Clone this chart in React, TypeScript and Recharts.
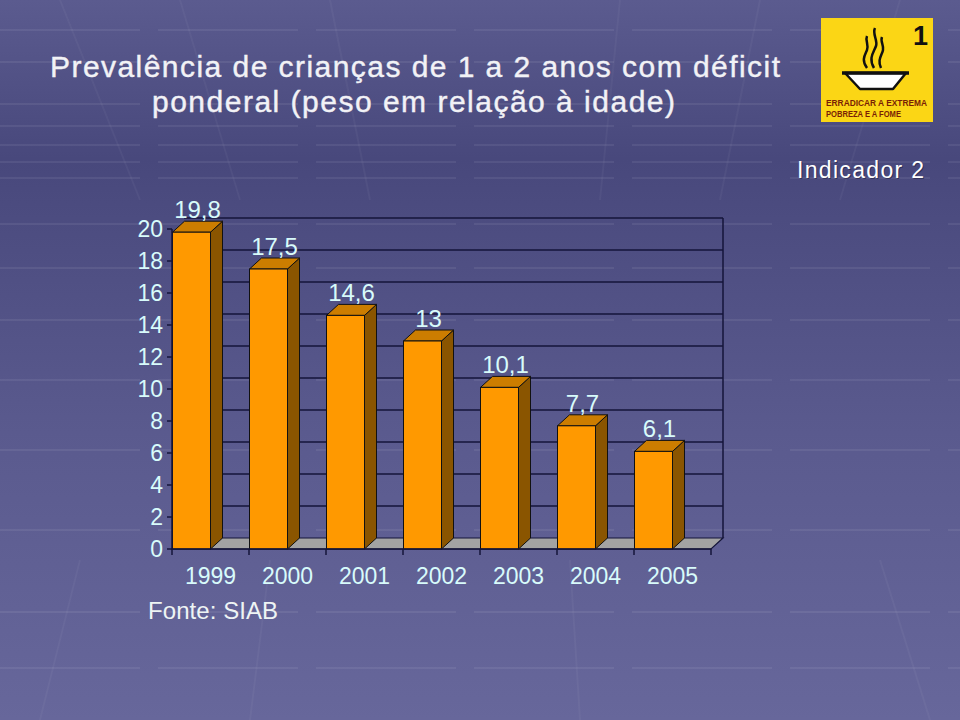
import React from 'react';
import { BarChart, Bar, XAxis, YAxis, CartesianGrid, LabelList } from 'recharts';

const years = ['1999', '2000', '2001', '2002', '2003', '2004', '2005'];
const values = [19.8, 17.5, 14.6, 13, 10.1, 7.7, 6.1];
const valueLabels = ['19,8', '17,5', '14,6', '13', '10,1', '7,7', '6,1'];
const yTicks = [0, 2, 4, 6, 8, 10, 12, 14, 16, 18, 20];

const data = years.map((year, i) => ({ year, value: values[i], label: valueLabels[i] }));

const FONT = '"Liberation Sans", Arial, Helvetica, sans-serif';
const W = 960;
const H = 720;
const MARGIN = { top: 229, right: 249, bottom: 141, left: 112 };
const Y_AXIS_W = 60;
const X_AXIS_H = 30;
const PLOT_TOP = MARGIN.top;
const PLOT_BOTTOM = H - MARGIN.bottom - X_AXIS_H;
const PLOT_LEFT = MARGIN.left + Y_AXIS_W;
const PLOT_RIGHT = W - MARGIN.right;
const BAND = (PLOT_RIGHT - PLOT_LEFT) / years.length;
const BAR_W = 38;
const SHIFT = (BAND - BAR_W) / 2;
const DX = 12;
const DY = -11;
const GRID = '#15153a';
const TXT = '#d8fbfb';

const Bar3D = (props: any) => {
  const { x, y, width, height } = props;
  if (height == null || height <= 0) return null;
  const fx = x - SHIFT;
  const w = width;
  return (
    <g>
      <polygon
        points={`${fx + w},${y} ${fx + w + DX},${y + DY} ${fx + w + DX},${y + height + DY} ${fx + w},${y + height}`}
        fill="#8a5500"
        stroke="#111"
        strokeWidth={1}
        strokeLinejoin="round"
      />
      <polygon
        points={`${fx},${y} ${fx + DX},${y + DY} ${fx + w + DX},${y + DY} ${fx + w},${y}`}
        fill="#cc7d00"
        stroke="#111"
        strokeWidth={1}
        strokeLinejoin="round"
      />
      <rect x={fx} y={y} width={w} height={height} fill="#ff9900" stroke="#111" strokeWidth={1} />
    </g>
  );
};

const renderValueLabel = (props: any) => {
  const { x, y, width, value } = props;
  const cx = x - SHIFT + width / 2 + DX / 2;
  return (
    <text x={cx} y={y - 14} textAnchor="middle" fill={TXT} fontSize={24} fontFamily={FONT}>
      {value}
    </text>
  );
};

const renderGridLine = (props: any) => {
  const { x1, x2, y1, key } = props;
  if (Math.abs(y1 - PLOT_BOTTOM) < 1) {
    return (
      <g key={key}>
        <polygon
          points={`${x1},${y1} ${x1 + DX},${y1 + DY} ${x2 + DX},${y1 + DY} ${x2},${y1}`}
          fill="#a3a3a3"
          stroke={GRID}
          strokeWidth={1.2}
        />
        <line x1={x2 + DX} y1={PLOT_TOP + DY} x2={x2 + DX} y2={y1 + DY} stroke={GRID} strokeWidth={1.5} />
      </g>
    );
  }
  return <line key={key} x1={x1 + DX} y1={y1 + DY} x2={x2 + DX} y2={y1 + DY} stroke={GRID} strokeWidth={1.5} />;
};

const XTick = (props: any) => {
  const { x, payload, index } = props;
  const last = index === years.length - 1;
  return (
    <g>
      <line x1={x - BAND / 2} y1={PLOT_BOTTOM} x2={x - BAND / 2} y2={PLOT_BOTTOM + 6} stroke={GRID} strokeWidth={1.5} />
      {last && (
        <line x1={x + BAND / 2} y1={PLOT_BOTTOM} x2={x + BAND / 2} y2={PLOT_BOTTOM + 6} stroke={GRID} strokeWidth={1.5} />
      )}
      <text x={x} y={PLOT_BOTTOM + 35} textAnchor="middle" fill={TXT} fontSize={23} fontFamily={FONT}>
        {payload.value}
      </text>
    </g>
  );
};

const bgHLines = [30, 62, 104, 126, 145, 162, 178, 224, 268, 320, 380, 450, 530, 612, 668];
const bgSlants = [
  [60, 0, 140, 200],
  [180, 0, 240, 200],
  [330, 0, 370, 200],
  [620, 0, 600, 200],
  [760, 0, 720, 200],
  [900, 0, 840, 200],
  [40, 720, 80, 560],
  [250, 720, 270, 560],
  [580, 720, 570, 560],
  [930, 720, 880, 560],
];

const Background = () => (
  <svg width={W} height={H} style={{ position: 'absolute', left: 0, top: 0 }}>
    <defs>
      <linearGradient id="bg" x1="0" y1="0" x2="0" y2="1">
        <stop offset="0%" stopColor="#5b5b8f" />
        <stop offset="22%" stopColor="#48487c" />
        <stop offset="60%" stopColor="#5a5a8e" />
        <stop offset="100%" stopColor="#67679b" />
      </linearGradient>
    </defs>
    <rect x={0} y={0} width={W} height={H} fill="url(#bg)" />
    {bgHLines.map((y, i) => (
      <line key={'h' + i} x1={0} y1={y} x2={W} y2={y} stroke="#ffffff" strokeOpacity={0.07} strokeWidth={2} strokeDasharray="140 18" />
    ))}
    {bgSlants.map((s, i) => (
      <line key={'s' + i} x1={s[0]} y1={s[1]} x2={s[2]} y2={s[3]} stroke="#ffffff" strokeOpacity={0.04} strokeWidth={2} />
    ))}
    {/* Title */}
    <text x={50} y={77} fontSize={30} fill="#f2f2f6" stroke="#f2f2f6" strokeWidth={0.4} fontFamily={FONT} textLength={730} lengthAdjust="spacing">
      Prevalência de crianças de 1 a 2 anos com déficit
    </text>
    <text x={152} y={112} fontSize={30} fill="#f2f2f6" stroke="#f2f2f6" strokeWidth={0.4} fontFamily={FONT} textLength={523} lengthAdjust="spacing">
      ponderal (peso em relação à idade)
    </text>
    {/* Logo */}
    <rect x={821} y={18} width={112} height={104} fill="#fbd615" />
    <text x={928} y={45} textAnchor="end" fontSize={27} fontWeight="bold" fill="#111" fontFamily={FONT}>
      1
    </text>
    <path d="M867,68 C861,60 865,55 867,50 C869,45 865,40 867,36" fill="none" stroke="#111" strokeWidth={2.5} />
    <path d="M874,68 C868,58 874,52 876,46 C878,40 872,34 875,28" fill="none" stroke="#111" strokeWidth={2.5} />
    <path d="M881,68 C877,60 882,55 883,50 C884,45 880,41 882,37" fill="none" stroke="#111" strokeWidth={2.5} />
    <path d="M845,73 L906,73 L893,89 L860,89 Z" fill="#ffffff" stroke="#111" strokeWidth={2.5} strokeLinejoin="round" />
    <line x1={842} y1={73} x2={909} y2={73} stroke="#111" strokeWidth={3.5} />
    <text x={826} y={106} fontSize={9} fontWeight="bold" fill="#7a1f05" fontFamily={FONT} textLength={101} lengthAdjust="spacingAndGlyphs">
      ERRADICAR A EXTREMA
    </text>
    <text x={826} y={117} fontSize={9} fontWeight="bold" fill="#7a1f05" fontFamily={FONT} textLength={75} lengthAdjust="spacingAndGlyphs">
      POBREZA E A FOME
    </text>
    {/* Indicador */}
    <text x={798} y={179} fontSize={23} fill="#1e1e40" fillOpacity={0.6} fontFamily={FONT} textLength={127} lengthAdjust="spacing">
      Indicador 2
    </text>
    <text x={797} y={178} fontSize={23} fill="#ffffff" fontFamily={FONT} textLength={127} lengthAdjust="spacing">
      Indicador 2
    </text>
    {/* Source */}
    <text x={148} y={619} fontSize={24} fill="#eef4f4" fontFamily={FONT} textLength={130} lengthAdjust="spacing">
      Fonte: SIAB
    </text>
  </svg>
);

export default function App() {
  return (
    <div
      style={{
        position: 'absolute',
        left: 0,
        top: 0,
        width: W,
        height: H,
        overflow: 'hidden',
        fontFamily: FONT,
      }}
    >
      <Background />
      <div style={{ position: 'absolute', left: 0, top: 0 }}>
        <BarChart width={W} height={H} data={data} margin={MARGIN} barSize={BAR_W}>
          <CartesianGrid vertical={false} horizontal={renderGridLine} />
          <XAxis
            dataKey="year"
            height={X_AXIS_H}
            axisLine={{ stroke: GRID, strokeWidth: 1.5 }}
            tickLine={false}
            tick={<XTick />}
            interval={0}
          />
          <YAxis
            width={Y_AXIS_W}
            domain={[0, 20]}
            ticks={yTicks}
            interval={0}
            axisLine={{ stroke: GRID, strokeWidth: 1.5 }}
            tickLine={{ stroke: GRID, strokeWidth: 1.5 }}
            tickSize={5}
            tickMargin={4}
            tick={{ fill: TXT, fontSize: 23, fontFamily: FONT }}
          />
          <Bar dataKey="value" shape={Bar3D} isAnimationActive={false}>
            <LabelList dataKey="label" content={renderValueLabel} />
          </Bar>
        </BarChart>
      </div>
    </div>
  );
}
